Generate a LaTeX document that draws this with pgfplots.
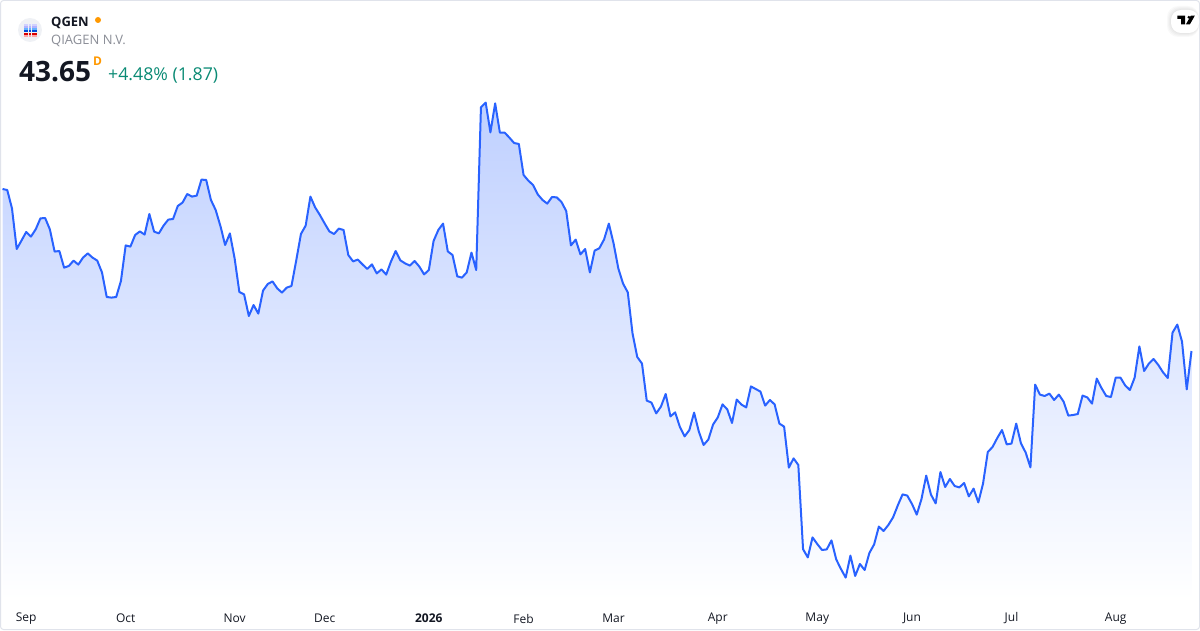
\documentclass[border=0pt]{standalone}
\usepackage{pgfplots}
\usepackage{pgfplotstable}
\usepackage{fontspec}
\setmainfont{Open Sans}
\pgfplotsset{compat=1.18}
\definecolor{tvline}{HTML}{2962FF}
\definecolor{tvtop}{RGB}{191,208,255}
\definecolor{tvbot}{RGB}{255,255,255}
\definecolor{tvtext}{HTML}{131722}
\definecolor{tvgray}{HTML}{8A8D96}
\definecolor{tvgreen}{HTML}{0A8A74}
\definecolor{tvorange}{HTML}{FF9800}
\definecolor{tvborder}{HTML}{E0E3EB}
\pgfplotstableread{
i p
0 51.75
1 51.70
2 50.78
3 48.75
4 49.17
5 49.60
6 49.37
7 49.73
8 50.28
9 50.30
10 49.73
11 48.62
12 48.65
13 47.82
14 47.90
15 48.17
16 47.97
17 48.32
18 48.53
19 48.32
20 48.17
21 47.58
22 46.35
23 46.32
24 46.35
25 47.15
26 48.93
27 48.87
28 49.45
29 49.63
30 49.47
31 50.50
32 49.62
33 49.53
34 49.92
35 50.22
36 50.25
37 50.90
38 51.07
39 51.50
40 51.37
41 51.42
42 52.22
43 52.20
44 51.20
45 50.70
46 49.90
47 48.95
48 49.53
49 48.28
50 46.60
51 46.48
52 45.40
53 45.95
54 45.52
55 46.67
56 47.00
57 47.13
58 46.78
59 46.57
60 46.82
61 46.90
62 48.17
63 49.50
64 49.92
65 51.37
66 50.83
67 50.45
68 50.03
69 49.63
70 49.50
71 49.77
72 49.70
73 48.45
74 48.13
75 48.22
76 47.98
77 47.75
78 47.98
79 47.53
80 47.73
81 47.47
82 48.12
83 48.65
84 48.18
85 48.03
86 47.92
87 48.15
88 47.87
89 47.48
90 47.70
91 49.15
92 49.70
93 50.02
94 48.63
95 48.45
96 47.38
97 47.32
98 47.58
99 48.57
100 47.70
101 55.83
102 56.07
103 54.58
104 56.03
105 54.57
106 54.57
107 54.32
108 54.05
109 54.00
110 52.45
111 52.17
112 51.95
113 51.48
114 51.20
115 51.02
116 51.35
117 51.33
118 51.10
119 50.65
120 48.93
121 49.22
122 48.48
123 48.75
124 47.58
125 48.67
126 48.79
127 49.23
128 50.02
129 49.03
130 47.78
131 47.02
132 46.58
133 44.53
134 43.35
135 43.02
136 41.17
137 41.07
138 40.53
139 40.87
140 41.50
141 40.38
142 40.58
143 39.85
144 39.38
145 39.70
146 40.57
147 39.62
148 38.95
149 39.22
150 39.97
151 40.33
152 40.98
153 40.73
154 40.05
155 41.22
156 40.97
157 40.83
158 41.88
159 41.75
160 41.62
161 40.92
162 41.20
163 40.98
164 40.02
165 39.87
166 37.82
167 38.28
168 37.95
169 33.74
170 33.33
171 34.33
172 34.00
173 33.70
174 33.73
175 34.18
176 33.23
177 32.75
178 32.32
179 33.42
180 32.40
181 33.00
182 32.70
183 33.55
184 33.98
185 34.87
186 34.65
187 34.95
188 35.33
189 35.93
190 36.48
191 36.42
192 36.00
193 35.47
194 36.25
195 37.42
196 36.47
197 36.03
198 37.60
199 36.85
200 37.25
201 36.90
202 36.83
203 37.05
204 36.38
205 36.77
206 36.08
207 37.03
208 38.60
209 38.85
210 39.30
211 39.70
212 38.98
213 39.02
214 40.02
215 39.03
216 38.57
217 37.83
218 41.97
219 41.47
220 41.40
221 41.52
222 41.20
223 41.47
224 41.12
225 40.42
226 40.45
227 40.50
228 41.42
229 41.33
230 41.02
231 42.27
232 41.80
233 41.40
234 41.35
235 42.32
236 42.32
237 41.93
238 41.70
239 42.32
240 43.88
241 42.65
242 43.02
243 43.25
244 42.95
245 42.58
246 42.30
247 44.57
248 44.97
249 44.12
250 41.73
251 43.65
}\pricedata
\begin{document}
\begin{tikzpicture}[x=1pt,y=1pt]
\path[use as bounding box] (0,0) rectangle (1200,630);
\begin{scope}[yshift=30pt]
\begin{axis}[
  at={(0,0)},anchor=south west,
  width=1200pt,height=600pt,scale only axis,
  xmin=-0.53,xmax=252.8,ymin=31.2,ymax=61.2,
  axis line style={draw=none},
  major tick length=0pt,
  ytick=\empty,
  xtick={5,26,49,68,90,110,129,151,172,192,213,235},
  xticklabels={Sep,Oct,Nov,Dec,\textbf{2026},Feb,Mar,Apr,May,Jun,Jul,Aug},
  xticklabel style={font=\fontsize{12}{14}\selectfont,text=tvtext,anchor=center,yshift=-18.5pt},
  clip=false,
]
\addplot[top color=tvtop,bottom color=tvbot,draw=none,forget plot] table[x=i,y=p]{\pricedata} \closedcycle;
\addplot[draw=tvline,line width=2pt,line join=round,forget plot] table[x=i,y=p]{\pricedata};
\end{axis}
\end{scope}
% frame
\draw[tvborder,line width=1pt,rounded corners=3pt] (0.5,0.5) rectangle (1199.5,629.5);
% logo
\fill[fill=tvborder!50!white] (30,600) circle (12);
\foreach \c in {0,...,4} {
  \fill[blue!18!white] (23.6+\c*2.7,606.4) rectangle +(2.1,-2.2);
  \fill[blue!30!white] (23.6+\c*2.7,604.2) rectangle +(2.1,-2.2);
  \fill[blue!50!cyan!60!white] (23.6+\c*2.7,602) rectangle +(2.1,-2.2);
  \fill[blue!65!cyan!85!black] (23.6+\c*2.7,599.8) rectangle +(2.1,-2.2);
  \fill[red!85!black] (23.6+\c*2.7,597.2) rectangle +(2.1,-2.2);
  \fill[red!35!white] (23.6+\c*2.7,595) rectangle +(2.1,-1.6);
}
% header text
\node[anchor=base west,inner sep=0pt,text=tvtext] at (51,603.5) {\fontsize{13}{15}\selectfont\bfseries QGEN};
\fill[tvorange] (98,610) circle (3);
\node[anchor=base west,inner sep=0pt,text=tvgray] at (51,585) {\fontsize{13}{15}\selectfont QIAGEN N.V.};
\node[anchor=base west,inner sep=0pt,text=tvtext] at (19,548) {\fontsize{28}{32}\selectfont\bfseries 43.65};
\node[anchor=base west,inner sep=0pt,text=tvorange] at (93,564.5) {\fontsize{12}{14}\selectfont\bfseries D};
\node[anchor=base west,inner sep=0pt,text=tvgreen] at (108,549.5) {\fontsize{17.7}{20}\selectfont +4.48\% (1.87)};
% TV badge
\foreach \k in {4,3,2,1} {\fill[black,opacity=0.025,rounded corners=11pt] (1171-\k,597-\k) rectangle (1199,620+\k);}
\fill[white,rounded corners=10pt] (1171,597) rectangle (1199,620);
\fill[black] (1177.3,614.3) -- (1185,614.3) -- (1185,605.5) -- (1181.2,605.5) -- (1181.2,611.2) -- (1177.3,611.2) -- cycle;
\fill[black] (1188.8,612.8) circle (1.5);
\fill[black] (1190.8,614.3) -- (1194.8,614.3) -- (1189.8,605.5) -- (1185.8,605.5) -- cycle;
\end{tikzpicture}
\end{document}
